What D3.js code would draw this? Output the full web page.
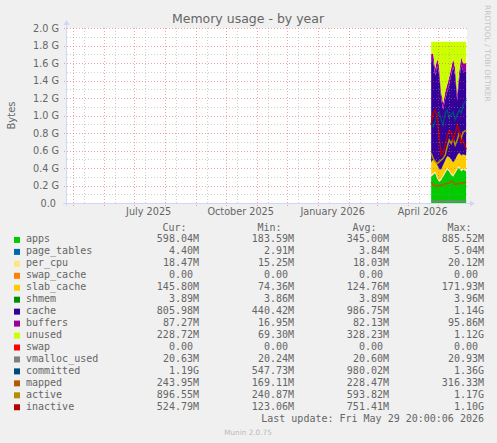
<!DOCTYPE html>
<meta charset="utf-8">
<style>
    body { margin: 0; background: #F0F0F0; }
    svg text { font-family: "DejaVu Sans", sans-serif; fill: #666666; }
    svg text.mono { font-family: "DejaVu Sans Mono", monospace; white-space: pre; }
</style>
<script src="https://d3js.org/d3.v7.min.js"></script>
<div id="chart"></div>
<script>

// consolidated samples (GiB), only the last five weeks hold data
var dates = ["2026-04-24", "2026-04-26", "2026-04-28", "2026-04-30", "2026-05-02", "2026-05-04",
             "2026-05-06", "2026-05-08", "2026-05-10", "2026-05-12", "2026-05-14", "2026-05-16",
             "2026-05-18", "2026-05-20", "2026-05-22", "2026-05-24", "2026-05-26", "2026-05-29"];

// stacked series
var apps        = [0.30, 0.32, 0.34, 0.28, 0.24, 0.26, 0.30, 0.34, 0.38, 0.36, 0.32, 0.30, 0.34, 0.38, 0.40, 0.36, 0.38, 0.36];
var page_tables = [0.004, 0.004, 0.004, 0.004, 0.004, 0.004, 0.004, 0.004, 0.004, 0.004, 0.004, 0.004, 0.004, 0.004, 0.004, 0.004, 0.004, 0.004];
var per_cpu     = [0.018, 0.018, 0.017, 0.018, 0.018, 0.017, 0.018, 0.018, 0.018, 0.018, 0.018, 0.018, 0.017, 0.018, 0.018, 0.018, 0.018, 0.018];
var swap_cache  = [0, 0, 0, 0, 0, 0, 0, 0, 0, 0, 0, 0, 0, 0, 0, 0, 0, 0];
var slab_cache  = [0.14, 0.15, 0.12, 0.13, 0.12, 0.10, 0.11, 0.12, 0.13, 0.14, 0.15, 0.14, 0.13, 0.14, 0.15, 0.16, 0.15, 0.16];
var shmem       = [0.004, 0.004, 0.004, 0.004, 0.004, 0.004, 0.004, 0.004, 0.004, 0.004, 0.004, 0.004, 0.004, 0.004, 0.004, 0.004, 0.004, 0.004];
var cache       = [1.15, 1.13, 0.97, 1.13, 1.09, 0.80, 0.63, 0.70, 0.73, 0.83, 0.96, 1.09, 0.96, 0.62, 0.84, 1.03, 0.95, 0.96];
var buffers     = [0.085, 0.085, 0.08, 0.085, 0.085, 0.08, 0.075, 0.08, 0.085, 0.085, 0.085, 0.09, 0.085, 0.08, 0.085, 0.09, 0.09, 0.09];
var unused      = [0.142, 0.132, 0.307, 0.192, 0.282, 0.577, 0.702, 0.577, 0.492, 0.402, 0.302, 0.197, 0.302, 0.597, 0.342, 0.177, 0.247, 0.247];
var swap        = [0, 0, 0, 0, 0, 0, 0, 0, 0, 0, 0, 0, 0, 0, 0, 0, 0, 0];

// line series
var vmalloc_used = [0.020, 0.020, 0.020, 0.020, 0.020, 0.020, 0.020, 0.020, 0.020, 0.020, 0.020, 0.020, 0.020, 0.020, 0.020, 0.020, 0.020, 0.020];
var committed    = [0.91, 0.87, 0.93, 1.01, 1.04, 0.95, 0.89, 1.03, 1.06, 0.97, 1.01, 1.04, 0.95, 1.01, 1.06, 1.03, 1.12, 1.18];
var mapped       = [0.24, 0.21, 0.19, 0.20, 0.20, 0.20, 0.21, 0.22, 0.22, 0.23, 0.25, 0.24, 0.21, 0.22, 0.22, 0.23, 0.23, 0.24];
var active       = [0.57, 0.51, 0.47, 0.45, 0.47, 0.49, 0.51, 0.55, 0.64, 0.72, 0.68, 0.74, 0.66, 0.72, 0.80, 0.74, 0.81, 0.83];
var inactive     = [0.89, 1.03, 1.06, 0.99, 0.76, 0.55, 0.57, 0.66, 0.76, 0.83, 0.81, 0.72, 0.79, 0.89, 0.83, 0.68, 0.72, 0.61];

// legend table
var names  = ["apps", "page_tables", "per_cpu", "swap_cache", "slab_cache", "shmem", "cache", "buffers",
              "unused", "swap", "vmalloc_used", "committed", "mapped", "active", "inactive"];
var colors = ["#00CC00", "#0066B3", "#FFE680", "#FF8000", "#FFCC00", "#008F00", "#330099", "#990099",
              "#CCFF00", "#FF0000", "#808080", "#00487D", "#B35A00", "#B38F00", "#B30000"];
var curVals = ["598.04M", "4.40M", "18.47M", "0.00", "145.80M", "3.89M", "805.98M", "87.27M", "228.72M", "0.00", "20.63M", "1.19G", "243.95M", "896.55M", "524.79M"];
var minVals = ["183.59M", "2.91M", "15.25M", "0.00", "74.36M", "3.86M", "440.42M", "16.95M", "69.30M", "0.00", "20.24M", "547.73M", "169.11M", "240.87M", "123.06M"];
var avgVals = ["345.00M", "3.84M", "18.03M", "0.00", "124.76M", "3.89M", "986.75M", "82.13M", "328.23M", "0.00", "20.60M", "980.02M", "228.47M", "593.82M", "751.41M"];
var maxVals = ["885.52M", "5.04M", "20.12M", "0.00", "171.93M", "3.96M", "1.14G", "95.86M", "1.12G", "0.00", "20.93M", "1.36G", "316.33M", "1.17G", "1.10G"];

// axis ticks
var yTicks = [0, 0.2, 0.4, 0.6, 0.8, 1.0, 1.2, 1.4, 1.6, 1.8, 2.0];
var xLabels = ["2025-07-15", "2025-10-15", "2026-01-15", "2026-04-15"];

var stackKeys = names.slice(0, 10);
var lineKeys = names.slice(10);
var series = {apps: apps, page_tables: page_tables, per_cpu: per_cpu, swap_cache: swap_cache,
    slab_cache: slab_cache, shmem: shmem, cache: cache, buffers: buffers, unused: unused, swap: swap,
    vmalloc_used: vmalloc_used, committed: committed, mapped: mapped, active: active, inactive: inactive};
var colorOf = {};
names.forEach(function (n, i) { colorOf[n] = colors[i]; });

var parse = d3.timeParse("%Y-%m-%d");
var rows = dates.map(function (d, i) {
    var r = {date: parse(d)};
    names.forEach(function (n) { r[n] = series[n][i]; });
    return r;
});

var plot = {left: 67, right: 467, top: 28, bottom: 203};

var svg = d3.select("#chart").append("svg")
    .attr("width", 497)
    .attr("height", 443);

svg.append("rect").attr("width", 497).attr("height", 443).attr("fill", "#F0F0F0");

// 400 days ending at the last update
var x = d3.scaleTime()
    .domain([new Date(2025, 3, 24, 20), new Date(2026, 4, 29, 20)])
    .range([plot.left, plot.right]);
var y = d3.scaleLinear().domain([0, 2]).range([plot.bottom, plot.top]);

// canvas
svg.append("rect")
    .attr("x", plot.left).attr("y", plot.top)
    .attr("width", plot.right - plot.left).attr("height", plot.bottom - plot.top)
    .attr("fill", "#FFFFFF");

// stacked areas
var stacked = d3.stack().keys(stackKeys)(rows);
var area = d3.area()
    .x(function (d) { return x(d.data.date); })
    .y0(function (d) { return y(d[0]); })
    .y1(function (d) { return y(d[1]); });
svg.append("g").selectAll("path")
    .data(stacked)
    .enter().append("path")
    .attr("d", area)
    .attr("fill", function (d) { return colorOf[d.key]; });

// lines
lineKeys.forEach(function (k) {
    var line = d3.line()
        .x(function (d) { return x(d.date); })
        .y(function (d) { return y(d[k]); });
    svg.append("path")
        .datum(rows)
        .attr("d", line)
        .attr("fill", "none")
        .attr("stroke", colorOf[k])
        .attr("stroke-width", 1.5);
});

// grid on top of the data, like rrdtool
var minorCol = "rgba(150,150,150,0.45)";
var majorCol = "rgba(222,79,79,0.5)";
var grid = svg.append("g");
var minorY = y.ticks(20).filter(function (v) { return yTicks.indexOf(+v.toFixed(1)) < 0; });
grid.selectAll("line.hminor").data(minorY).enter().append("line")
    .attr("x1", plot.left).attr("x2", plot.right)
    .attr("y1", function (d) { return Math.round(y(d)) + 0.5; })
    .attr("y2", function (d) { return Math.round(y(d)) + 0.5; })
    .attr("stroke", minorCol).attr("stroke-dasharray", "1,2");
grid.selectAll("line.hmajor").data(yTicks).enter().append("line")
    .attr("x1", plot.left - 3).attr("x2", plot.right)
    .attr("y1", function (d) { return Math.round(y(d)) + 0.5; })
    .attr("y2", function (d) { return Math.round(y(d)) + 0.5; })
    .attr("stroke", majorCol).attr("stroke-dasharray", "1,2");

var months = d3.timeMonth.range(x.domain()[0], x.domain()[1]);
var minorX = months.map(function (m) { return d3.timeDay.offset(m, 11); })
    .filter(function (d) { return d > x.domain()[0] && d < x.domain()[1]; });
grid.selectAll("line.vminor").data(minorX).enter().append("line")
    .attr("x1", function (d) { return Math.round(x(d)) + 0.5; })
    .attr("x2", function (d) { return Math.round(x(d)) + 0.5; })
    .attr("y1", plot.top).attr("y2", plot.bottom)
    .attr("stroke", minorCol).attr("stroke-dasharray", "1,2");
grid.selectAll("line.vmajor").data(months).enter().append("line")
    .attr("x1", function (d) { return Math.round(x(d)) + 0.5; })
    .attr("x2", function (d) { return Math.round(x(d)) + 0.5; })
    .attr("y1", plot.top).attr("y2", plot.bottom + 3)
    .attr("stroke", majorCol).attr("stroke-dasharray", "1,2");

// axes lines and arrows
svg.append("line")
    .attr("x1", plot.left - 4).attr("x2", plot.right + 4)
    .attr("y1", plot.bottom + 0.5).attr("y2", plot.bottom + 0.5)
    .attr("stroke", "#CFD6F8");
svg.append("line")
    .attr("x1", plot.left - 0.5).attr("x2", plot.left - 0.5)
    .attr("y1", plot.bottom + 3).attr("y2", plot.top - 5)
    .attr("stroke", "#CFD6F8");
svg.append("path")
    .attr("d", "M" + (plot.right + 3) + "," + (plot.bottom - 2.5) + "L" + (plot.right + 8) + "," + (plot.bottom + 0.5) +
        "L" + (plot.right + 3) + "," + (plot.bottom + 3.5) + "Z")
    .attr("fill", "#CFD6F8");
svg.append("path")
    .attr("d", "M" + (plot.left - 3.5) + "," + (plot.top - 3) + "L" + (plot.left - 0.5) + "," + (plot.top - 8) +
        "L" + (plot.left + 2.5) + "," + (plot.top - 3) + "Z")
    .attr("fill", "#CFD6F8");

// y labels
var yAxis = svg.append("g")
    .attr("transform", "translate(" + plot.left + ",0)")
    .call(d3.axisLeft(y).tickValues(yTicks).tickSize(0).tickPadding(8)
        .tickFormat(function (v) { return v === 0 ? "0.0 " : v.toFixed(1) + " G"; }));
yAxis.select(".domain").remove();
yAxis.selectAll("text")
    .attr("xml:space", "preserve")
    .style("white-space", "pre")
    .style("font-family", "DejaVu Sans")
    .style("font-size", "9.7px")
    .attr("fill", "#666666");

// x labels
var xAxis = svg.append("g")
    .attr("transform", "translate(0," + plot.bottom + ")")
    .call(d3.axisBottom(x).tickValues(xLabels.map(parse)).tickSize(0).tickPadding(5.6)
        .tickFormat(d3.timeFormat("%B %Y")));
xAxis.select(".domain").remove();
xAxis.selectAll("text")
    .style("font-family", "DejaVu Sans")
    .style("font-size", "9.7px")
    .attr("fill", "#666666");

// title, unit, watermark
svg.append("text")
    .attr("x", 248).attr("y", 23)
    .attr("text-anchor", "middle")
    .style("font-size", "12.5px")
    .text("Memory usage - by year");
svg.append("text")
    .attr("transform", "translate(15," + (plot.top + plot.bottom) / 2 + ") rotate(-90)")
    .attr("text-anchor", "middle")
    .style("font-size", "10px")
    .text("Bytes");
svg.append("text")
    .attr("transform", "translate(485,5) rotate(90)")
    .style("font-size", "7.5px")
    .style("fill", "#C4C4C4")
    .text("RRDTOOL / TOBI OETIKER");

// legend
var colEnds = [199, 294, 389, 484];
var headers = ["Cur:", "Min:", "Avg:", "Max:"];
var rowY = function (i) { return 230.5 + 11.95 * i; };
var fix = function (s) { return /[A-Z]$/.test(s) ? s : s + " "; };

headers.forEach(function (h, j) {
    svg.append("text").attr("class", "mono")
        .attr("x", colEnds[j] - 12.5).attr("y", rowY(0))
        .attr("text-anchor", "end")
        .style("font-size", "10px")
        .text(h);
});

var legend = svg.append("g").selectAll("g")
    .data(names)
    .enter().append("g");
legend.append("rect")
    .attr("x", 14)
    .attr("y", function (d, i) { return rowY(i + 1) - 5.5; })
    .attr("width", 6).attr("height", 6)
    .attr("fill", function (d, i) { return colors[i]; });
legend.append("text").attr("class", "mono")
    .attr("x", 26)
    .attr("y", function (d, i) { return rowY(i + 1); })
    .style("font-size", "10px")
    .text(function (d) { return d; });
[curVals, minVals, avgVals, maxVals].forEach(function (vals, j) {
    legend.append("text").attr("class", "mono")
        .attr("xml:space", "preserve")
        .attr("x", colEnds[j])
        .attr("y", function (d, i) { return rowY(i + 1); })
        .attr("text-anchor", "end")
        .style("font-size", "10px")
        .text(function (d, i) { return fix(vals[i]); });
});

svg.append("text").attr("class", "mono")
    .attr("x", 484).attr("y", rowY(16))
    .attr("text-anchor", "end")
    .style("font-size", "10px")
    .text("Last update: Fri May 29 20:00:06 2026");

svg.append("text")
    .attr("x", 248).attr("y", 435)
    .attr("text-anchor", "middle")
    .style("font-size", "7.3px")
    .style("fill", "#BBBBBB")
    .text("Munin 2.0.75");

</script>
